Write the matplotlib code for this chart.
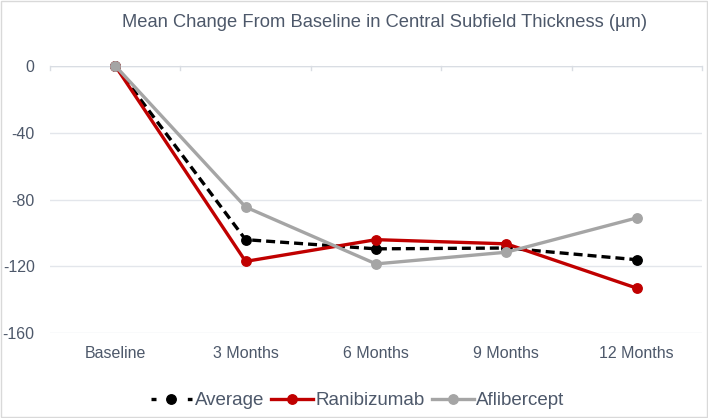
import matplotlib.pyplot as plt
from matplotlib.lines import Line2D
from matplotlib.patches import Rectangle

plt.rcParams['font.family'] = ['Liberation Sans', 'DejaVu Sans']

categories = ['Baseline', '3 Months', '6 Months', '9 Months', '12 Months']
average = [0, -104, -109.5, -109, -116]
ranibizumab = [0, -117, -104, -106.5, -133]
aflibercept = [0, -84.5, -118.5, -111.5, -91]
yticks = [0, -40, -80, -120, -160]

text_color = '#4d586a'
grid_color = '#e3e6eb'

fig = plt.figure(figsize=(7.08, 4.18), dpi=100)
ax = fig.add_axes([0.0706, 0.2026, 0.9209, 0.6402])

lw = 2.4
ms = 6.8
x = list(range(len(categories)))
ax.plot(x, average, color='black', lw=lw, linestyle=(0, (2.7, 1.5)), marker='o',
        markersize=ms, label='Average', clip_on=False, zorder=3)
ax.plot(x, ranibizumab, color='#C00000', lw=lw, marker='o', markersize=ms,
        label='Ranibizumab', clip_on=False, zorder=4)
ax.plot(x, aflibercept, color='#A5A5A5', lw=lw, marker='o', markersize=ms,
        label='Aflibercept', clip_on=False, zorder=5)

ax.set_xlim(-0.5, len(categories) - 0.5)
ax.set_ylim(-160, 0)
ax.set_yticks(yticks)
ax.set_yticklabels([str(v) for v in yticks])
ax.set_xticks(x)
ax.set_xticklabels(categories)
ax.tick_params(axis='both', length=0, colors=text_color, labelsize=11.5)
ax.tick_params(axis='x', pad=9)
ax.tick_params(axis='y', pad=11)
ax.grid(axis='y', color=grid_color, lw=1)
ax.set_axisbelow(True)
for s in ax.spines.values():
    s.set_visible(False)

# category axis line at zero with tick marks between categories
ax.axhline(0, color='#d9dde3', lw=1, zorder=1)
for b in [i - 0.5 for i in range(len(categories) + 1)]:
    ax.plot([b, b], [0, -2.5], color='#d9dde3', lw=1, zorder=1, clip_on=False)

fig.text(0.543, 0.947, 'Mean Change From Baseline in Central Subfield Thickness (\u00b5m)',
         ha='center', va='center', fontsize=13.2, color=text_color)

handles = [
    Line2D([], [], color='black', lw=lw, linestyle=(0, (1.5, 9.4)), marker='o', markersize=ms),
    Line2D([], [], color='#C00000', lw=lw, marker='o', markersize=ms),
    Line2D([], [], color='#A5A5A5', lw=lw, marker='o', markersize=ms),
]
fig.legend(handles, ['Average', 'Ranibizumab', 'Aflibercept'], loc='center',
           bbox_to_anchor=(0.505, 0.041), ncol=3, frameon=False, fontsize=13.5,
           labelcolor=text_color, handlelength=2.2, handletextpad=0.15,
           columnspacing=0.4)

fig.patches.append(Rectangle((0.001, 0.002), 0.997, 0.995, transform=fig.transFigure,
                             fill=False, edgecolor='#d9d9d9', lw=1))

fig.savefig('out.png', dpi=100)
